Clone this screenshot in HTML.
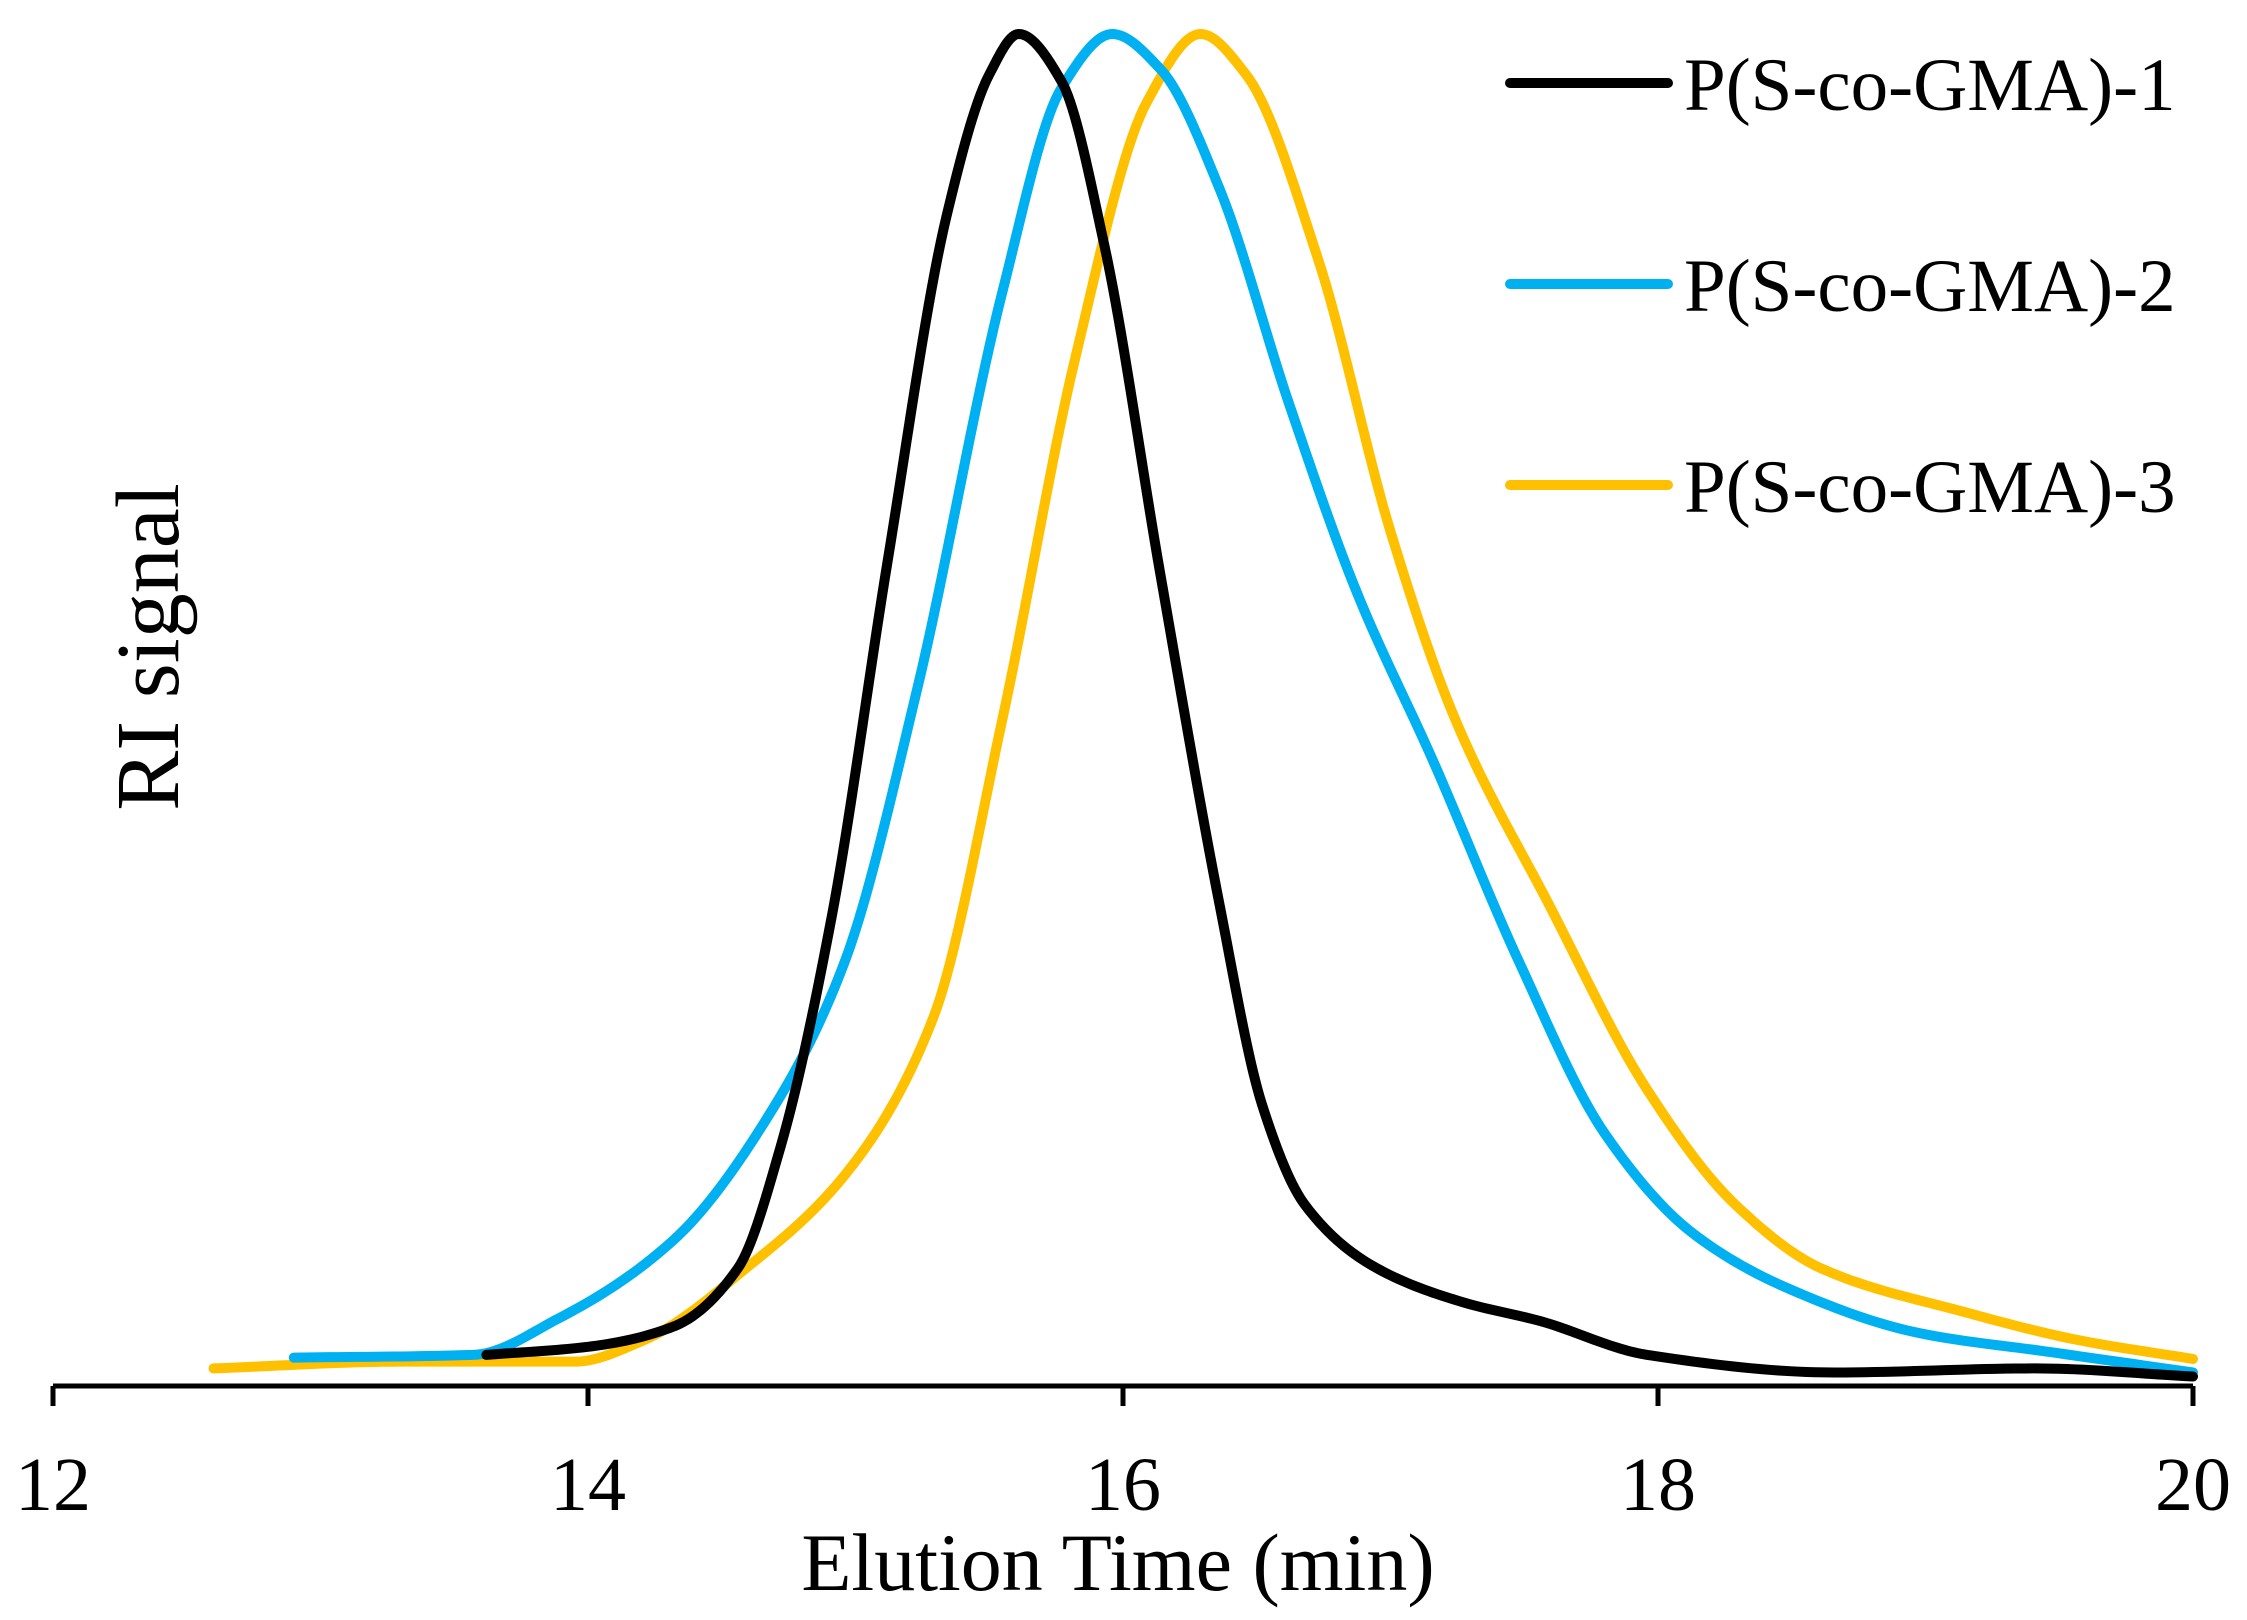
<!DOCTYPE html>
<html><head><meta charset="utf-8"><style>
html,body{margin:0;padding:0;background:#fff;}
svg{display:block;font-family:"Liberation Serif",serif;}
</style></head><body>
<svg id="chart" width="2247" height="1620" viewBox="0 0 2247 1620" xmlns="http://www.w3.org/2000/svg">
<g id="axes"></g>
<g id="series"></g>
<g id="legend"></g>
</svg>
<script>
const xTicks = [12, 14, 16, 18, 20];
const seriesNames = ["P(S-co-GMA)-1", "P(S-co-GMA)-2", "P(S-co-GMA)-3"];
const seriesColors = ["#000000", "#00b0f0", "#ffc000"];
const t1 = [13.62,14.0,14.32,14.56,14.72,14.91,15.12,15.34,15.5,15.61,15.77,15.93,16.14,16.36,16.52,16.68,16.95,17.27,17.56,17.96,18.66,19.41,20.0];
const v1 = [2.3,2.9,4.4,8.7,17.7,34.6,61,86.5,97,100,96.5,84.4,60,35.7,20.8,13.4,8.7,6.2,4.8,2.3,1.0,1.3,0.7];
const t2 = [12.9,13.57,13.89,14.32,14.7,14.96,15.23,15.55,15.77,15.96,16.14,16.36,16.62,16.87,17.16,17.48,17.8,18.13,18.5,18.98,19.47,20.0];
const v2 = [2.1,2.3,5,10.8,20.8,31.4,51.5,81,96,100,97.4,88.6,72.7,58.9,46.2,31.4,18.7,11.3,7.1,3.9,2.5,1.0];
const t3 = [12.6,13.3,13.95,14.21,14.59,14.96,15.29,15.55,15.82,16.09,16.29,16.46,16.73,17.0,17.24,17.59,17.96,18.29,18.61,19.14,19.57,20.0];
const v3 = [1.3,1.8,1.8,3.4,8.7,15.6,27.2,49.4,75.9,95,100,97,83.3,63.2,49.4,35.7,21.9,13.4,8.7,5.5,3.4,2.0];

const NS = "http://www.w3.org/2000/svg";
const X0 = 53, X1 = 2193, Y0 = 1386, YTOP = 34;
function xs(t){ return X0 + (t - 12) / 8 * (X1 - X0); }
function ys(v){ return Y0 - v / 100 * (Y0 - YTOP); }
function mk(tag, attrs, parent){ const e = document.createElementNS(NS, tag); for (const k in attrs) e.setAttribute(k, attrs[k]); parent.appendChild(e); return e; }

const axes = document.getElementById("axes");
const xl = mk("line", {x1: X0, x2: X1, y1: Y0, y2: Y0, stroke: "#000", "stroke-width": 5}, axes);


xTicks.forEach(t => {
  const tk = mk("line", {x1: xs(t), x2: xs(t), y1: Y0, y2: Y0 + 20, stroke: "#000", "stroke-width": 5}, axes);
  
  
  const lb = mk("text", {x: xs(t), y: 1510, "text-anchor": "middle", "font-size": 76}, axes);
  lb.textContent = t;
  
  
});
const xt = mk("text", {x: 1118, y: 1590, "text-anchor": "middle", "font-size": 82}, axes);
xt.textContent = "Elution Time (min)";


const yt = mk("text", {x: 0, y: 0, "text-anchor": "middle", "font-size": 90, transform: "translate(178,647) rotate(-90)"}, axes);
yt.textContent = "RI signal";



// monotone cubic (Fritsch-Carlson) interpolation, sampled densely
function pathFor(T, V){
  const n = T.length, d = [], m = new Array(n);
  for (let i = 0; i < n - 1; i++) d.push((V[i+1] - V[i]) / (T[i+1] - T[i]));
  m[0] = d[0]; m[n-1] = d[n-2];
  for (let i = 1; i < n - 1; i++){
    if (d[i-1] * d[i] <= 0) m[i] = 0;
    else { const h0 = T[i] - T[i-1], h1 = T[i+1] - T[i];
      const w1 = 2*h1 + h0, w2 = h1 + 2*h0;
      m[i] = (w1 + w2) / (w1 / d[i-1] + w2 / d[i]); }
  }
  let s = "M" + xs(T[0]) + "," + ys(V[0]);
  for (let i = 0; i < n - 1; i++){
    const h = T[i+1] - T[i];
    for (let k = 1; k <= 20; k++){
      const u = k / 20, u2 = u*u, u3 = u2*u;
      const v = (2*u3 - 3*u2 + 1)*V[i] + (u3 - 2*u2 + u)*h*m[i] + (-2*u3 + 3*u2)*V[i+1] + (u3 - u2)*h*m[i+1];
      s += " L" + xs(T[i] + u*h).toFixed(2) + "," + ys(v).toFixed(2);
    }
  }
  return s;
}
const series = document.getElementById("series");
const data = [[t1, v1], [t2, v2], [t3, v3]];
[2, 1, 0].forEach(i => {
  const pth = mk("path", {d: pathFor(data[i][0], data[i][1]), fill: "none", stroke: seriesColors[i], "stroke-width": 10, "stroke-linejoin": "round", "stroke-linecap": "round"}, series);
  
  
});

const legend = document.getElementById("legend");
seriesNames.forEach((n, i) => {
  const y = 83 + i * 201;
  const ln = mk("line", {x1: 1510, x2: 1668, y1: y, y2: y, stroke: seriesColors[i], "stroke-width": 10, "stroke-linecap": "round"}, legend);
  
  
  const tx = mk("text", {x: 1684, y: y + 27, "font-size": 75}, legend);
  tx.textContent = n;
  
  
});
</script>
</body></html>
